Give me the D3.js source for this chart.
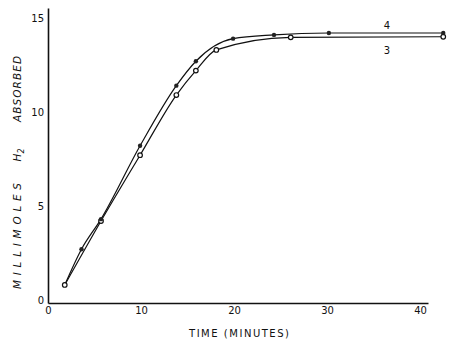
<!DOCTYPE html>
<html lang="en">
<head>
<meta charset="UTF-8">
<title>H2 absorbed</title>
<script src="https://d3js.org/d3.v7.min.js"></script>
<style>
  body { margin: 0; background: #fff; }
  text { font-family: "DejaVu Sans", sans-serif; fill: #111; }
  .axis path { stroke: #111; stroke-width: 1.6; }
  .axis text { font-size: 10px; }
</style>
</head>
<body>
<svg id="canvas" width="449" height="341"></svg>
<script>
// curve 4 (upper) and curve 3 (lower): time in minutes, millimoles H2 absorbed
var time4 = [1.8, 3.6, 5.7, 9.9, 13.8, 15.9, 19.9, 24.3, 30.2, 42.5];
var h2_4  = [0.8, 2.7, 4.3, 8.2, 11.4, 12.7, 13.9, 14.1, 14.2, 14.2];
var time3 = [1.8, 5.7, 9.9, 13.8, 15.9, 18.1, 26.1, 42.5];
var h2_3  = [0.8, 4.2, 7.7, 10.9, 12.2, 13.3, 13.97, 14.0];
var xTicks = [0, 10, 20, 30, 40];
var yTicks = [0, 5, 10, 15];

var svg = d3.select("#canvas");
var x = d3.scaleLinear().domain([0, 40.86]).range([48, 428]);
var y = d3.scaleLinear().domain([-0.16, 15.53]).range([303, 8]);

svg.append("g").attr("class", "axis")
  .attr("transform", "translate(0,303)")
  .call(d3.axisBottom(x).tickValues(xTicks).tickSize(0).tickPadding(4).tickFormat(d3.format("d")));
svg.append("g").attr("class", "axis")
  .attr("transform", "translate(48,0)")
  .call(d3.axisLeft(y).tickValues(yTicks).tickSize(0).tickPadding(4).tickFormat(d3.format("d")));

var line = d3.line()
  .x(function(d) { return x(d[0]); })
  .y(function(d) { return y(d[1]); })
  .curve(d3.curveMonotoneX);

var s4 = time4.map(function(t, i) { return [t, h2_4[i]]; });
var s3 = time3.map(function(t, i) { return [t, h2_3[i]]; });

svg.append("path").datum(s4).attr("d", line)
  .attr("fill", "none").attr("stroke", "#111").attr("stroke-width", 1.2);
svg.append("path").datum(s3).attr("d", line)
  .attr("fill", "none").attr("stroke", "#111").attr("stroke-width", 1.2);

svg.selectAll(".m3").data(s3).enter().append("circle")
  .attr("cx", function(d) { return x(d[0]); })
  .attr("cy", function(d) { return y(d[1]); })
  .attr("r", 2.3).attr("fill", "#fff").attr("stroke", "#111").attr("stroke-width", 1.2);
svg.selectAll(".m4").data(s4.slice(1)).enter().append("circle")
  .attr("cx", function(d) { return x(d[0]); })
  .attr("cy", function(d) { return y(d[1]); })
  .attr("r", 2.2).attr("fill", "#222");

svg.append("text").attr("x", 387).attr("y", 29).attr("text-anchor", "middle")
  .style("font-size", "10px").text("4");
svg.append("text").attr("x", 387).attr("y", 54).attr("text-anchor", "middle")
  .style("font-size", "10px").text("3");

svg.append("text").attr("x", 239).attr("y", 337).attr("text-anchor", "middle")
  .attr("textLength", 100).attr("lengthAdjust", "spacing")
  .style("font-size", "10px").text("TIME (MINUTES)");

// rotated y title, three words with wide gaps
var yt = svg.append("g").attr("transform", "translate(21,0) rotate(-90)");
yt.append("text").attr("x", -236).attr("y", 0).attr("text-anchor", "middle")
  .attr("textLength", 106).attr("lengthAdjust", "spacing")
  .style("font-size", "10.5px").style("font-style", "italic").text("MILLIMOLES");
var h = yt.append("text").attr("x", -155).attr("y", 0).attr("text-anchor", "middle")
  .style("font-size", "10.5px").style("font-style", "italic");
h.append("tspan").text("H");
h.append("tspan").attr("dy", 3).style("font-size", "8px").text("2");
yt.append("text").attr("x", -89).attr("y", 0).attr("text-anchor", "middle")
  .attr("textLength", 66).attr("lengthAdjust", "spacing")
  .style("font-size", "10.5px").style("font-style", "italic").text("ABSORBED");
</script>
</body>
</html>
